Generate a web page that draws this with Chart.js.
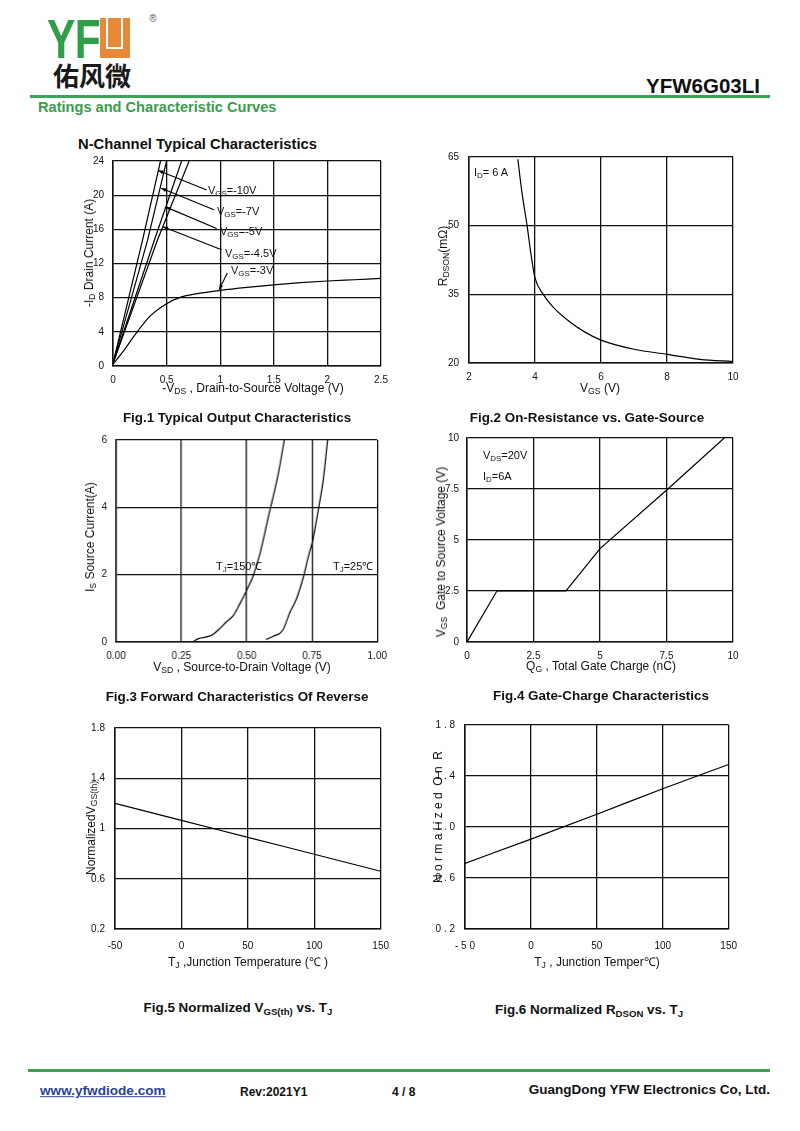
<!DOCTYPE html>
<html>
<head>
<meta charset="utf-8">
<script src="https://cdn.jsdelivr.net/npm/chart.js@4.4.0/dist/chart.umd.min.js"></script>
<style>
  body { margin: 0; background: #fff; font-family: "Liberation Sans", Arial, sans-serif; color: #111; }
  #page { position: relative; width: 800px; height: 1131px; overflow: hidden; }
  canvas { position: absolute; }
  .t { position: absolute; white-space: nowrap; line-height: 1; }
  .c { transform: translate(-50%, -50%); }
  .l { transform: translate(0, -50%); }
  .r { transform: translate(-100%, -50%); }
  .v { transform: translate(-50%, -50%) rotate(-90deg); }
  .b { font-weight: bold; }
  .ax { font-size: 12px; }
  .an { font-size: 11px; }
  .fig { font-size: 13.4px; font-weight: bold; }
  sub { font-size: 72%; vertical-align: baseline; position: relative; top: 0.28em; }
  .bar { position: absolute; background: #3aa655; height: 2.5px; }
</style>
</head>
<body>
<div id="page">
  <!-- header -->
  <div class="t b" style="left:47px;top:11px;font-size:56px;color:#2e9e48;transform:scaleX(0.76);transform-origin:left top;letter-spacing:-1px;">YF</div>
  <div style="position:absolute;left:100px;top:18px;width:30px;height:40px;background:#e8893a;"></div>
  <div style="position:absolute;left:106px;top:18px;width:13px;height:29px;border:2.5px solid #fff;border-top:none;"></div>
  <div class="t c" style="left:153px;top:19px;font-size:10px;color:#555;">®</div>
  <div class="t c b" style="left:92px;top:75px;font-size:26px;font-family:'Noto Sans CJK SC',sans-serif;color:#1a1a1a;">佑风微</div>
  <div class="t r b" style="left:760px;top:86px;font-size:20.5px;">YFW6G03LI</div>
  <div class="bar" style="left:30px;top:95px;width:740px;"></div>
  <div class="t l b" style="left:38px;top:107px;font-size:14.6px;color:#3c9c4c;">Ratings and Characteristic Curves</div>

  <!-- fig 1 -->
  <div class="t l b" style="left:78px;top:144px;font-size:14.8px;">N-Channel Typical Characteristics</div>
  <canvas id="fig1"></canvas>
  <div class="t v ax" style="left:89px;top:253px;">-I<sub>D</sub> Drain Current (A)</div>
  <div class="t c ax" style="left:253px;top:388px;">-V<sub>DS</sub> , Drain-to-Source Voltage (V)</div>
  <div class="t l an" style="left:208px;top:190px;">V<sub>GS</sub>=-10V</div>
  <div class="t l an" style="left:217px;top:211px;">V<sub>GS</sub>=-7V</div>
  <div class="t l an" style="left:220px;top:231px;">V<sub>GS</sub>=-5V</div>
  <div class="t l an" style="left:225px;top:253px;">V<sub>GS</sub>=-4.5V</div>
  <div class="t l an" style="left:231px;top:270px;">V<sub>GS</sub>=-3V</div>
  <div class="t c fig" style="left:237px;top:418px;">Fig.1 Typical Output Characteristics</div>

  <!-- fig 2 -->
  <canvas id="fig2"></canvas>
  <div class="t l an" style="left:474px;top:172px;">I<sub>D</sub>= 6 A</div>
  <div class="t v ax" style="left:443px;top:256px;">R<sub>DSON</sub>(mΩ)</div>
  <div class="t c ax" style="left:600px;top:388px;">V<sub>GS</sub> (V)</div>
  <div class="t c fig" style="left:587px;top:418px;">Fig.2 On-Resistance vs. Gate-Source</div>

  <!-- fig 3 -->
  <canvas id="fig3"></canvas>
  <div class="t v ax" style="left:90px;top:537px;">I<sub>S</sub> Source Current(A)</div>
  <div class="t c ax" style="left:242px;top:667px;">V<sub>SD</sub> , Source-to-Drain Voltage (V)</div>
  <div class="t l an" style="left:216px;top:566px;">T<sub>J</sub>=150℃</div>
  <div class="t l an" style="left:333px;top:566px;">T<sub>J</sub>=25℃</div>
  <div class="t c fig" style="left:237px;top:697px;">Fig.3 Forward Characteristics Of Reverse</div>

  <!-- fig 4 -->
  <canvas id="fig4"></canvas>
  <div class="t l an" style="left:483px;top:455px;">V<sub>DS</sub>=20V</div>
  <div class="t l an" style="left:483px;top:476px;">I<sub>D</sub>=6A</div>
  <div class="t v ax" style="left:441px;top:552px;">V<sub>GS</sub>&nbsp;&nbsp;Gate to Source Voltage (V)</div>
  <div class="t c ax" style="left:601px;top:666px;">Q<sub>G</sub> , Total Gate Charge (nC)</div>
  <div class="t c fig" style="left:601px;top:696px;">Fig.4 Gate-Charge Characteristics</div>

  <!-- fig 5 -->
  <canvas id="fig5"></canvas>
  <div class="t v ax" style="left:91px;top:828px;">NormalizedV<sub>GS(th)</sub></div>
  <div class="t c ax" style="left:248px;top:962px;">T<sub>J</sub> ,Junction Temperature (℃ )</div>
  <div class="t c fig" style="left:238px;top:1008px;">Fig.5 Normalized V<sub>GS(th)</sub> vs. T<sub>J</sub></div>

  <!-- fig 6 -->
  <canvas id="fig6"></canvas>
  <div class="t v ax" style="left:438px;top:817px;">N o r m a l i z e d&nbsp; O n&nbsp; R</div>
  <div class="t c ax" style="left:597px;top:962px;">T<sub>J</sub> , Junction Temper℃)</div>
  <div class="t c fig" style="left:589px;top:1010px;">Fig.6 Normalized R<sub>DSON</sub> vs. T<sub>J</sub></div>

  <!-- footer -->
  <div class="bar" style="left:28px;top:1069px;width:742px;"></div>
  <div class="t l b" style="left:40px;top:1091px;font-size:13.6px;color:#2b3f9a;text-decoration:underline;">www.yfwdiode.com</div>
  <div class="t l b" style="left:240px;top:1092px;font-size:12px;">Rev:2021Y1</div>
  <div class="t l b" style="left:392px;top:1092px;font-size:12px;">4 / 8</div>
  <div class="t r b" style="left:770px;top:1090px;font-size:13.5px;">GuangDong YFW Electronics Co, Ltd.</div>
</div>

<script>
// Fig.1 output characteristics
const vds3 = [0, 0.1, 0.22, 0.35, 0.5, 0.62, 0.8, 1.0, 1.25, 1.5, 1.75, 2.0, 2.25, 2.5]
const id3 = [0.2, 1.8, 3.9, 5.9, 7.3, 8.0, 8.5, 8.85, 9.2, 9.5, 9.75, 9.95, 10.1, 10.25]
const vds10 = [0, 0.275, 0.443]
const vds7 = [0, 0.322, 0.5]
const vds5 = [0, 0.385, 0.64]
const vds45 = [0, 0.413, 0.71]
const idLines = [0.3, 14.7, 24]
// label arrows: [fromX, fromY, tipX, tipY]
const fig1Arrows = [
  [0.873, 20.6, 0.423, 22.9],
  [0.941, 18.3, 0.45, 20.8],
  [0.967, 16.1, 0.495, 18.6],
  [1.013, 13.6, 0.466, 16.3],
  [1.066, 10.9, 0.991, 8.95],
]
const fig1XTicks = [0, 0.5, 1, 1.5, 2, 2.5]
const fig1YTicks = [0, 4, 8, 12, 16, 20, 24]

// Fig.2 on-resistance
const vgs2 = [3.48, 3.6, 3.76, 3.89, 4.0, 4.25, 4.55, 5.05, 5.5, 6.0, 7.0, 8.0, 9.0, 10.0]
const rds2 = [64.5, 57.5, 50, 43.2, 38.6, 35.0, 32.2, 29.0, 26.8, 25.0, 23.0, 21.9, 20.8, 20.3]
const fig2XTicks = [2, 4, 6, 8, 10]
const fig2YTicks = [20, 35, 50, 65]

// Fig.3 body diode forward
const vsd150 = [0.298, 0.315, 0.366, 0.39, 0.423, 0.449, 0.474, 0.5, 0.523, 0.551, 0.583, 0.621, 0.644]
const is150 = [0.03, 0.1, 0.2, 0.35, 0.6, 0.79, 1.14, 1.54, 1.93, 2.63, 3.72, 5.0, 6.0]
const vsd25 = [0.574, 0.602, 0.638, 0.666, 0.691, 0.717, 0.736, 0.753, 0.774, 0.793, 0.81]
const is25 = [0.07, 0.17, 0.35, 0.89, 1.29, 1.93, 2.53, 3.02, 3.92, 4.81, 6.0]
const fig3XTicks = [0, 0.25, 0.5, 0.75, 1]
const fig3XLabels = ["0.00", "0.25", "0.50", "0.75", "1.00"]
const fig3YTicks = [0, 2, 4, 6]

// Fig.4 gate charge
const qg = [0, 1.13, 3.72, 5.01, 7.52, 9.67]
const vgsQ = [0, 2.51, 2.51, 4.59, 7.46, 10]
const fig4Ticks = [0, 2.5, 5, 7.5, 10]

// Fig.5 / Fig.6 vs junction temperature
const tj = [-50, 0, 50, 100, 150]
const vthNorm = [1.2, 1.065, 0.93, 0.795, 0.66]
const rdsNorm = [0.715, 0.905, 1.1, 1.3, 1.49]
const tjTicks = [-50, 0, 50, 100, 150]
const normTicks = [0.2, 0.6, 1, 1.4, 1.8]
const fig5YLabels = ["0.2", "0.6", "1", "1.4", "1.8"]
const fig6XLabels = ["- 5 0", "0", "50", "100", "150"]
const fig6YLabels = ["0 . 2", "0 . 6", "1 . 0", "1 . 4", "1 . 8"]

Chart.defaults.font.family = '"Liberation Sans", Arial, sans-serif'
Chart.defaults.color = "#111"

function series(xs, ys, tension) {
  return {
    data: xs.map((x, i) => ({ x: x, y: ys[i] })),
    showLine: true,
    borderColor: "#000",
    borderWidth: 1.2,
    pointRadius: 0,
    fill: false,
    tension: tension || 0,
    cubicInterpolationMode: tension ? "monotone" : "default",
  }
}

function axis(min, max, ticks, labels, isX, pad) {
  return {
    type: "linear",
    min: min,
    max: max,
    afterBuildTicks: (scale) => { scale.ticks = ticks.map((v) => ({ value: v })) },
    afterFit: (scale) => { if (isX) scale.height = 25; else scale.width = 50 },
    grid: { color: "#111", lineWidth: 1.3, drawTicks: false },
    border: { color: "#111", width: 1.5 },
    ticks: {
      padding: pad,
      autoSkip: false,
      maxRotation: 0,
      font: { size: 10 },
      callback: (value, index) => labels ? labels[index] : String(value),
    },
  }
}

function build(cv, w, h, datasets, xAxis, yAxis, plugins) {
  cv.width = w
  cv.height = h
  cv.style.width = w + "px"
  cv.style.height = h + "px"
  return new Chart(cv, {
    type: "scatter",
    data: { datasets: datasets },
    options: {
      responsive: false,
      animation: false,
      events: [],
      layout: { padding: { left: 0, top: 10, right: 15, bottom: 0 } },
      plugins: { legend: { display: false }, tooltip: { enabled: false } },
      scales: { x: xAxis, y: yAxis },
    },
    plugins: plugins || [],
  })
}

// box = wanted plot area in page pixels
function makeChart(id, box, datasets, xAxis, yAxis, plugins) {
  const cv = document.getElementById(id)
  let w = box.r - box.l + 65
  let h = box.b - box.t + 35
  // first pass only measures how much padding the layout adds
  const probe = build(cv, w, h, datasets, xAxis, yAxis, plugins)
  const ca = probe.chartArea
  const ew = w - (ca.right - ca.left)
  const eh = h - (ca.bottom - ca.top)
  probe.destroy()
  w = box.r - box.l + ew
  h = box.b - box.t + eh
  const chart = build(cv, w, h, datasets, xAxis, yAxis, plugins)
  cv.style.left = (box.l - chart.chartArea.left) + "px"
  cv.style.top = (box.t - chart.chartArea.top) + "px"
  return chart
}

const arrowPlugin = {
  id: "arrows",
  afterDatasetsDraw(chart) {
    const ctx = chart.ctx
    const xs = chart.scales.x
    const ys = chart.scales.y
    ctx.save()
    ctx.strokeStyle = "#000"
    ctx.fillStyle = "#000"
    ctx.lineWidth = 1.1
    fig1Arrows.forEach((a) => {
      const x1 = xs.getPixelForValue(a[0])
      const y1 = ys.getPixelForValue(a[1])
      const x2 = xs.getPixelForValue(a[2])
      const y2 = ys.getPixelForValue(a[3])
      const ang = Math.atan2(y2 - y1, x2 - x1)
      ctx.beginPath()
      ctx.moveTo(x1, y1)
      ctx.lineTo(x2, y2)
      ctx.stroke()
      ctx.beginPath()
      ctx.moveTo(x2, y2)
      ctx.lineTo(x2 - 5 * Math.cos(ang) + 2 * Math.sin(ang), y2 - 5 * Math.sin(ang) - 2 * Math.cos(ang))
      ctx.lineTo(x2 - 5 * Math.cos(ang) - 2 * Math.sin(ang), y2 - 5 * Math.sin(ang) + 2 * Math.cos(ang))
      ctx.closePath()
      ctx.fill()
    })
    ctx.restore()
  },
}

makeChart("fig1", { l: 113, t: 161, r: 381, b: 366 },
  [series(vds10, idLines), series(vds7, idLines), series(vds5, idLines), series(vds45, idLines), series(vds3, id3, 0.4)],
  axis(0, 2.5, fig1XTicks, null, true, 8),
  axis(0, 24, fig1YTicks, null, false, 9),
  [arrowPlugin])

makeChart("fig2", { l: 469, t: 157, r: 733, b: 363 },
  [series(vgs2, rds2, 0.4)],
  axis(2, 10, fig2XTicks, null, true, 8),
  axis(20, 65, fig2YTicks, null, false, 10))

makeChart("fig3", { l: 116, t: 440, r: 377, b: 642 },
  [series(vsd150, is150, 0.3), series(vsd25, is25, 0.3)],
  axis(0, 1, fig3XTicks, fig3XLabels, true, 8),
  axis(0, 6, fig3YTicks, null, false, 9))

makeChart("fig4", { l: 467, t: 438, r: 733, b: 642 },
  [series(qg, vgsQ)],
  axis(0, 10, fig4Ticks, null, true, 8),
  axis(0, 10, fig4Ticks, null, false, 8))

makeChart("fig5", { l: 115, t: 728, r: 381, b: 929 },
  [series(tj, vthNorm, 0.3)],
  axis(-50, 150, tjTicks, null, true, 11),
  axis(0.2, 1.8, normTicks, fig5YLabels, false, 10))

makeChart("fig6", { l: 465, t: 725, r: 729, b: 929 },
  [series(tj, rdsNorm, 0.3)],
  axis(-50, 150, tjTicks, fig6XLabels, true, 11),
  axis(0.2, 1.8, normTicks, fig6YLabels, false, 10))
</script>
</body>
</html>
